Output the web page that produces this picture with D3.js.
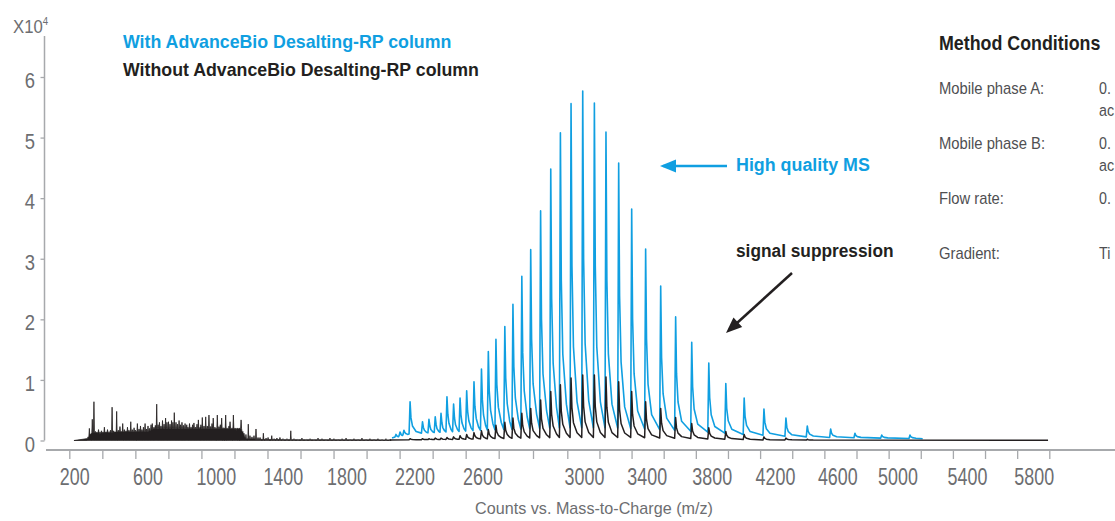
<!DOCTYPE html>
<html><head><meta charset="utf-8">
<script src="https://cdn.jsdelivr.net/npm/d3@7"></script>
<style>
html,body{margin:0;padding:0;background:#fff;overflow:hidden}
svg{display:block}
text{font-family:"Liberation Sans",Arial,sans-serif}
</style></head><body>
<svg id="chart" width="1115" height="521"></svg>
<script>
// ---------------- DATA ----------------
const xTickLabels = [200,600,1000,1400,1800,2200,2600,3000,3400,3800,4200,4600,5000,5400,5800];
const yTickLabels = [0,1,2,3,4,5,6];

// With AdvanceBio Desalting-RP column (blue): peak m/z and intensity (x10^4)
const blueMz  = [2088,2112,2135,2171,2244,2282,2319,2353,2388,2427,2465,2504,2547,2591,2621,2651,2686,2718,2753,2788,2827,2867,2905,2947,2993,3063,3137,3218,3301,3390,3483,3575,3674,3779,3886,4002,4127,4267,4404,4554,4714,4892,5069];
const blueInt = [0.10,0.14,0.17,0.64,0.31,0.35,0.39,0.45,0.72,0.60,0.70,0.82,0.97,1.18,1.47,1.67,1.88,2.25,2.71,3.15,3.79,4.48,5.08,5.56,5.77,5.57,5.09,4.58,3.82,3.16,2.55,2.04,1.62,1.28,0.94,0.70,0.52,0.37,0.24,0.19,0.12,0.09,0.09];
const blueRange = [2065,5142];
const blueFloorMz  = [2065,2141,2229,2465,2667,2903,3163,3480,3778,4002,4267,4554,4880,5142];
const blueFloorVal = [0.04,0.10,0.12,0.15,0.18,0.21,0.21,0.18,0.14,0.10,0.07,0.05,0.04,0.03];

// Without AdvanceBio Desalting-RP column (black): low-mass interference spikes
const blackLowMz  = [273,280,286,296,305,314,322,330,338,346,354,362,371,379,387,395,404,412,420,429,438,447,454,462,471,480,488,496,506,514,524,532,542,551,559,567,575,584,592,600,609,618,625,635,643,651,659,667,676,685,694,703,711,720,729,738,746,754,764,773,782,790,799,808,817,827,834,843,852,861,869,878,887,895,905,910,918,928,938,947,957,966,975,982,992,1006,1016,1024,1032,1043,1056,1067,1076,1082,1091,1102,1112,1122,1133,1148,1156,1165,1177,1191,1201,1213,1225,1237,1249,1261,1281,1297,1309,1331,1345,1362,1380,1398,1423,1447,1467,1492,1517,1543,1568,1593,1618,1643,1668,1693,1718,1744,1769,1794,1818,1841,1865,1888,1912,1935,1959,1982,2006,2029,2053];
const blackLowInt = [0.06,0.20,0.10,0.35,0.64,0.15,0.12,0.18,0.10,0.16,0.12,0.22,0.14,0.18,0.13,0.17,0.55,0.16,0.14,0.48,0.17,0.23,0.15,0.28,0.18,0.16,0.22,0.17,0.31,0.18,0.21,0.17,0.28,0.19,0.24,0.18,0.22,0.28,0.19,0.24,0.20,0.26,0.28,0.22,0.25,0.60,0.26,0.30,0.24,0.33,0.27,0.37,0.30,0.31,0.27,0.33,0.30,0.46,0.30,0.27,0.33,0.26,0.30,0.25,0.28,0.26,0.22,0.28,0.22,0.26,0.29,0.22,0.27,0.34,0.22,0.26,0.38,0.24,0.39,0.24,0.42,0.23,0.28,0.37,0.22,0.42,0.23,0.26,0.37,0.21,0.42,0.20,0.24,0.31,0.20,0.42,0.18,0.16,0.19,0.34,0.14,0.12,0.10,0.27,0.08,0.06,0.08,0.19,0.05,0.05,0.12,0.04,0.05,0.08,0.03,0.04,0.05,0.03,0.03,0.16,0.03,0.02,0.04,0.02,0.03,0.02,0.04,0.03,0.02,0.04,0.03,0.02,0.03,0.04,0.02,0.03,0.02,0.04,0.02,0.03,0.02,0.03,0.02,0.03,0.02];
const blackLowStart = 196;
const blackLowFloorMz  = [196,268,276,290,600,640,1150,1170,1300,2053];
const blackLowFloorVal = [0,0,0.05,0.13,0.15,0.20,0.20,0.03,0.015,0.01];

// black charge-state envelope (suppressed signal)
const blackEnvMz  = [2171,2244,2282,2319,2353,2388,2427,2465,2504,2547,2591,2621,2651,2686,2718,2753,2788,2827,2867,2905,2947,2993,3063,3137,3218,3301,3390,3483,3575,3674,3779,3886,4002,4127,4267,4404];
const blackEnvInt = [0.03,0.03,0.03,0.04,0.04,0.05,0.06,0.08,0.10,0.13,0.16,0.18,0.25,0.30,0.37,0.45,0.53,0.67,0.81,0.92,1.03,1.08,1.08,1.05,0.97,0.81,0.64,0.53,0.38,0.28,0.21,0.15,0.10,0.06,0.04,0.02];
const blackEnvRange = [2053,5883];
const blackEnvFloorMz  = [2053,2500,2900,3300,3700,4100,4500,5883];
const blackEnvFloorVal = [0.01,0.02,0.05,0.05,0.03,0.01,0.005,0.005];

const legendLabels = ["With AdvanceBio Desalting-RP column","Without AdvanceBio Desalting-RP column"];
const methodTitle = "Method Conditions";
const methodLabels = ["Mobile phase A:","Mobile phase B:","Flow rate:","Gradient:"];
const methodValues = [["0.","ac"],["0.","ac"],["0."],["Ti"]];

// ---------------- LAYOUT ----------------
const BLUE = "#109fe1", BLACK = "#231f20", AXIS = "#a7a9ac", TXT = "#6d6e71", MTXT = "#4f4f52";
const svg = d3.select("#chart");

function addText(x0, y0, str, o){
  const t = svg.append("text")
    .attr("transform", `translate(${x0},${y0}) scale(${o.sx||1},1)`)
    .attr("text-anchor", o.anchor||"start")
    .attr("fill", o.fill||BLACK)
    .style("font-size", o.size+"px")
    .style("font-weight", o.weight||"normal");
  if (str !== null) t.text(str);
  return t;
}

const x = d3.scaleLinear()
  .domain(xTickLabels)
  .range([74.7,148,216.3,283.3,347,415,483,584.5,647.2,712.2,775.5,837.8,898,967.5,1034.2]);
const y = d3.scaleLinear().domain([0,6]).range([440.5,77]);
const tickIdx = d3.scaleLinear().domain([0,13,15,30]).range([69.3,498.7,567.3,1049.3]);

// x axis
svg.append("line").attr("x1",46).attr("x2",1115).attr("y1",450).attr("y2",450)
  .attr("stroke",AXIS).attr("stroke-width",1.8);
const gTicks = svg.append("g").attr("transform","translate(0,450)")
  .call(d3.axisBottom(tickIdx).tickValues(d3.range(31)).tickFormat("").tickSize(9));
gTicks.select(".domain").remove();
gTicks.selectAll("line").attr("stroke",AXIS).attr("stroke-width",1.3);

const gXL = svg.append("g").attr("transform","translate(0,450)")
  .call(d3.axisBottom(x).tickValues(xTickLabels).tickSize(0).tickFormat(d3.format("d")));
gXL.select(".domain").remove();
gXL.selectAll(".tick").attr("transform", d => `translate(${x(d)},0) scale(0.73,1)`);
gXL.selectAll(".tick text").attr("y",35.5).attr("dy",null).attr("fill",TXT)
  .attr("font-family",null).attr("font-size",null)
  .style("font-size","24.5px");

// y axis
svg.append("line").attr("x1",44.5).attr("x2",44.5).attr("y1",36).attr("y2",y(0))
  .attr("stroke",AXIS).attr("stroke-width",1.5);
const gY = svg.append("g").attr("transform","translate(44.5,0)")
  .call(d3.axisLeft(y).tickValues(yTickLabels).tickSize(4).tickPadding(5.5).tickFormat(d3.format("d")));
gY.select(".domain").remove();
gY.selectAll("line").attr("stroke",AXIS).attr("stroke-width",1.3);
gY.selectAll("text").remove();
gY.selectAll(".tick").append("text")
  .attr("transform","translate(-9.5,10.6) scale(0.82,1)")
  .attr("text-anchor","end").attr("fill",TXT).style("font-size","22.5px")
  .text(d => d);

const xt = addText(13, 33, null, {size:19, fill:TXT, sx:0.88});
xt.append("tspan").text("X10");
xt.append("tspan").text("4").attr("dy",-8).style("font-size","11px");

addText(594, 514, "Counts vs. Mass-to-Charge (m/z)", {size:17, fill:TXT, anchor:"middle", sx:0.95});

// ---------------- SERIES ----------------
function envelopePoints(mzs, ints, floorMz, floorVal, range){
  const fl = d3.scaleLinear().domain(floorMz).range(floorVal).clamp(true);
  const pts = [[x(range[0]), y(fl(range[0]))]];
  const n = mzs.length;
  mzs.forEach((m,i)=>{
    const p = x(m), f = fl(m), h = ints[i];
    const nextP = i<n-1 ? x(mzs[i+1]) : x(range[1]);
    const gap = nextP - p;
    pts.push([p-1.0, y(f)]);
    pts.push([p, y(h)]);
    pts.push([p+0.9, y(f+(h-f)*0.5)]);
    pts.push([p+Math.min(2.4,gap*0.3), y(f+(h-f)*0.25)]);
    pts.push([p+Math.min(6,gap*0.6), y(f+(h-f)*0.08)]);
  });
  pts.push([x(range[1]), y(fl(range[1]))]);
  return pts;
}
const line = d3.line();

svg.append("path").attr("d", line(envelopePoints(blueMz, blueInt, blueFloorMz, blueFloorVal, blueRange)))
  .attr("fill","none").attr("stroke",BLUE).attr("stroke-width",1.6).attr("stroke-linejoin","round");

{
  const fl = d3.scaleLinear().domain(blackLowFloorMz).range(blackLowFloorVal).clamp(true);
  const pts = [[x(blackLowStart), y(0)]];
  blackLowMz.forEach((m,i)=>{
    const p = x(m), f = fl(m);
    pts.push([p-0.45, y(f)]);
    pts.push([p, y(blackLowInt[i])]);
    pts.push([p+0.45, y(f)]);
  });
  const last = blackLowMz[blackLowMz.length-1];
  pts.push([x(last)+1, y(fl(last))]);
  const area = d3.area().x(d=>d[0]).y0(y(0)).y1(d=>d[1]);
  svg.append("path").attr("d", area(pts)).attr("fill",BLACK).attr("stroke",BLACK).attr("stroke-width",0.8);
}
svg.append("path").attr("d", line(envelopePoints(blackEnvMz, blackEnvInt, blackEnvFloorMz, blackEnvFloorVal, blackEnvRange)))
  .attr("fill","none").attr("stroke",BLACK).attr("stroke-width",1.5).attr("stroke-linejoin","round");

// ---------------- LEGEND & ANNOTATIONS ----------------
addText(123, 48, legendLabels[0], {size:18.5, weight:"bold", fill:BLUE, sx:0.96});
addText(123, 76, legendLabels[1], {size:18.5, weight:"bold", fill:BLACK, sx:0.96});

addText(736, 171, "High quality MS", {size:19, weight:"bold", fill:BLUE, sx:0.94});
addText(736, 257, "signal suppression", {size:19, weight:"bold", fill:BLACK, sx:0.91});

function arrow(x1,y1,x2,y2,color){
  svg.append("line").attr("x1",x1).attr("y1",y1).attr("x2",x2-(x2-x1)*0.05).attr("y2",y2-(y2-y1)*0.05).attr("stroke",color).attr("stroke-width",2.5);
  const a = Math.atan2(y2-y1,x2-x1), L=16, W=6.5;
  const bx = x2 - L*Math.cos(a), by = y2 - L*Math.sin(a);
  const p = [[x2,y2],[bx + W*Math.sin(a), by - W*Math.cos(a)],[bx - W*Math.sin(a), by + W*Math.cos(a)]];
  svg.append("polygon").attr("points",p.map(d=>d.join(",")).join(" ")).attr("fill",color);
}
arrow(727,166,660,166,BLUE);
arrow(792,273,726,333,BLACK);

// method conditions
addText(939, 50, methodTitle, {size:20.5, weight:"bold", fill:BLACK, sx:0.87});
const rowY = [94,149,204,259];
methodLabels.forEach((lab,i)=>{
  addText(939, rowY[i], lab, {size:17, fill:MTXT, sx:0.87});
  methodValues[i].forEach((v,j)=>{
    addText(1099, rowY[i]+j*22, v, {size:17, fill:MTXT, sx:0.84});
  });
});
</script>
</body></html>
